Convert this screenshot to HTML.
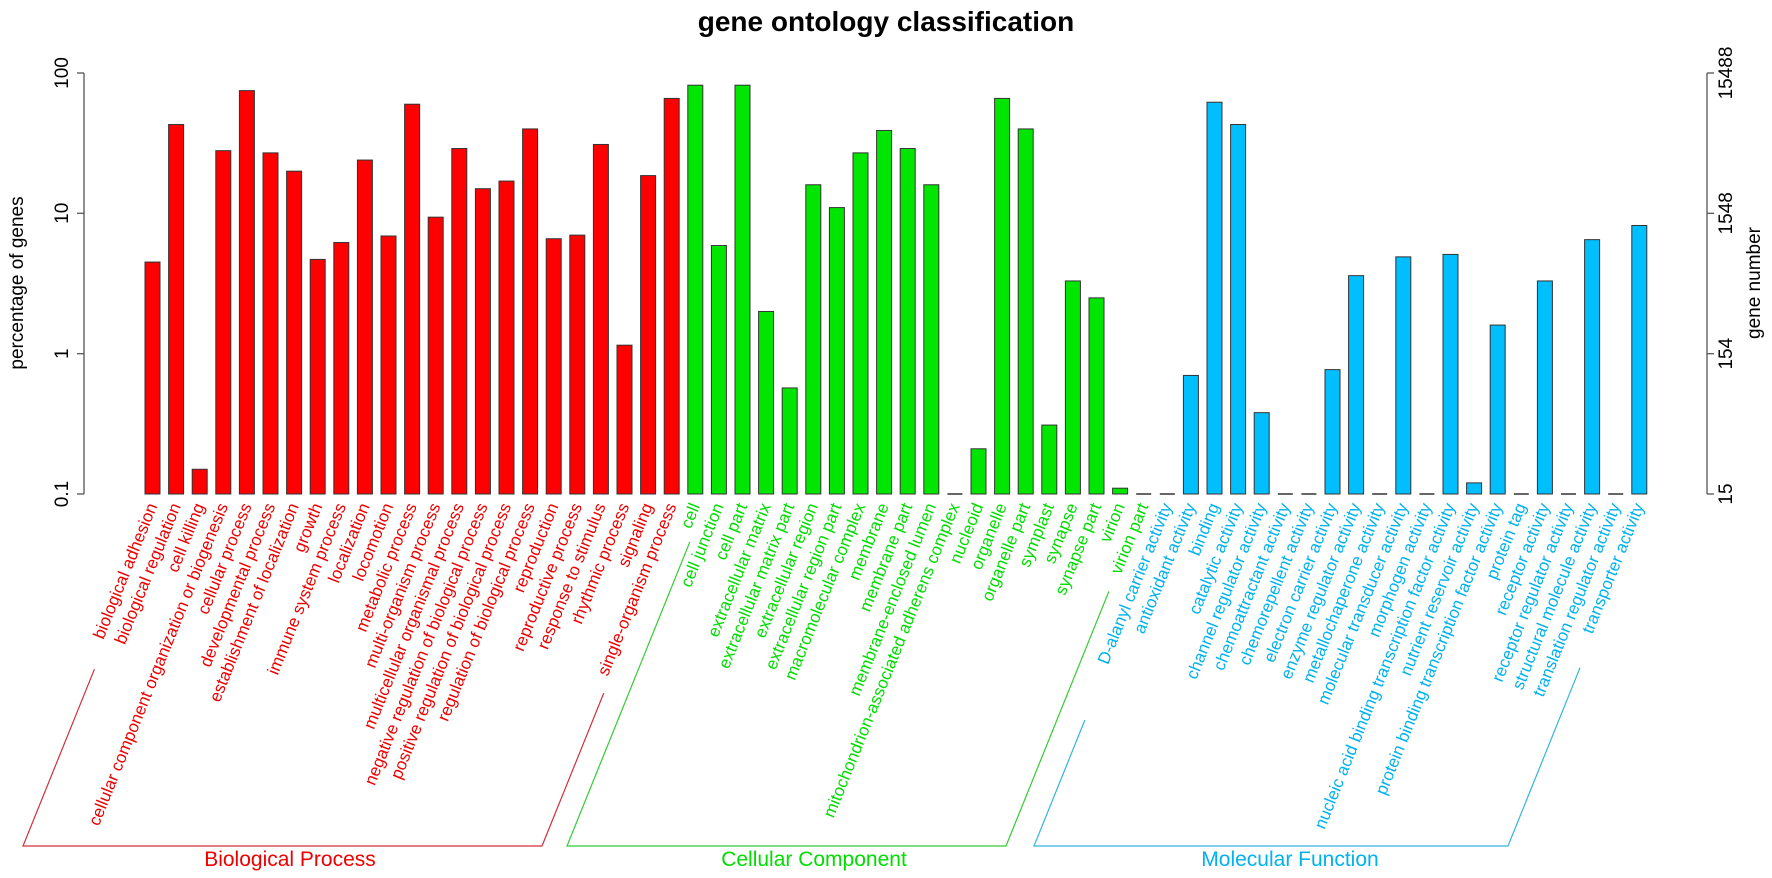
<!DOCTYPE html>
<html><head><meta charset="utf-8"><style>
html,body{margin:0;padding:0;background:#fff;}
svg{display:block;font-family:"Liberation Sans",Arial,sans-serif;}
</style></head><body>
<svg id="s" width="1772" height="878" viewBox="0 0 1772 878" xmlns="http://www.w3.org/2000/svg">
<rect width="1772" height="878" fill="#fff"/>
<text x="886" y="31" text-anchor="middle" font-size="28" font-weight="bold" fill="#000">gene ontology classification</text>
<g stroke="#555" stroke-width="1.3" fill="none">
<line x1="84" y1="73" x2="84" y2="494"/>
<line x1="77" y1="73" x2="84" y2="73"/><line x1="77" y1="213.3" x2="84" y2="213.3"/><line x1="77" y1="353.7" x2="84" y2="353.7"/><line x1="77" y1="494" x2="84" y2="494"/>
<line x1="1707" y1="73" x2="1707" y2="494"/>
<line x1="1707" y1="73" x2="1714" y2="73"/><line x1="1707" y1="213.3" x2="1714" y2="213.3"/><line x1="1707" y1="353.7" x2="1714" y2="353.7"/><line x1="1707" y1="494" x2="1714" y2="494"/>
</g>
<g font-size="19" fill="#000" text-anchor="middle">
<text transform="translate(68,73) rotate(-90)">100</text>
<text transform="translate(68,213.3) rotate(-90)">10</text>
<text transform="translate(68,353.7) rotate(-90)">1</text>
<text transform="translate(68,494) rotate(-90)">0.1</text>
<text transform="translate(23,283) rotate(-90)">percentage of genes</text>
<text transform="translate(1732,73) rotate(-90)">15488</text>
<text transform="translate(1732,213.3) rotate(-90)">1548</text>
<text transform="translate(1732,353.7) rotate(-90)">154</text>
<text transform="translate(1732,494) rotate(-90)">15</text>
<text transform="translate(1760,283) rotate(-90)">gene number</text>
</g>
<g id="bars"></g>
<g id="labels" font-size="17"></g>
<g id="br" fill="none" stroke-width="1.2"></g>
<g font-size="21" text-anchor="middle">
<text x="290" y="866" fill="#ee0000">Biological Process</text>
<text x="814" y="866" fill="#00dd00">Cellular Component</text>
<text x="1290" y="866" fill="#00b2ee">Molecular Function</text>
</g>
</svg>
<script>
var groups=[
{fill:"#ff0000",tc:"#ee0000",lc:"#d0303a",x0:23,x1:542,items:[
["biological adhesion",4.5],["biological regulation",43],["cell killing",0.15],["cellular component organization or biogenesis",28],["cellular process",75],["developmental process",27],["establishment of localization",20],["growth",4.7],["immune system process",6.2],["localization",24],["locomotion",6.9],["metabolic process",60],["multi-organism process",9.4],["multicellular organismal process",29],["negative regulation of biological process",15],["positive regulation of biological process",17],["regulation of biological process",40],["reproduction",6.6],["reproductive process",7],["response to stimulus",31],["rhythmic process",1.15],["signaling",18.6],["single-organism process",66]]},
{fill:"#00e600",tc:"#00dd00",lc:"#33cc33",x0:567,x1:1006,items:[
["cell",82],["cell junction",5.9],["cell part",82],["extracellular matrix",2.0],["extracellular matrix part",0.57],["extracellular region",16],["extracellular region part",11],["macromolecular complex",27],["membrane",39],["membrane part",29],["membrane-enclosed lumen",16],["mitochondrion-associated adherens complex",0.1],["nucleoid",0.21],["organelle",66],["organelle part",40],["symplast",0.31],["synapse",3.3],["synapse part",2.5],["virion",0.11],["virion part",0.1]]},
{fill:"#00bfff",tc:"#00b2ee",lc:"#33b5dd",x0:1034,x1:1508,items:[
["D-alanyl carrier activity",0.1],["antioxidant activity",0.7],["binding",62],["catalytic activity",43],["channel regulator activity",0.38],["chemoattractant activity",0.1],["chemorepellent activity",0.1],["electron carrier activity",0.77],["enzyme regulator activity",3.6],["metallochaperone activity",0.1],["molecular transducer activity",4.9],["morphogen activity",0.1],["nucleic acid binding transcription factor activity",5.1],["nutrient reservoir activity",0.12],["protein binding transcription factor activity",1.6],["protein tag",0.1],["receptor activity",3.3],["receptor regulator activity",0.1],["structural molecule activity",6.5],["translation regulator activity",0.1],["transporter activity",8.2]]}];
var NS="http://www.w3.org/2000/svg";
function el(t,a,p){var e=document.createElementNS(NS,t);for(var k in a)e.setAttribute(k,a[k]);p.appendChild(e);return e;}
var bars=document.getElementById("bars"),labs=document.getElementById("labels"),br=document.getElementById("br");
var i=0,cw=9.15,ang=68,s=Math.sin(ang*Math.PI/180),t=Math.tan(ang*Math.PI/180);
groups.forEach(function(g){
 var first=null,last=null;
 g.items.forEach(function(it){
  var x=145+i*23.6,cx=x+7.5;
  var y=494-140.3*(Math.log10(it[1])+1);
  if(it[1]<=0.1001){el("line",{x1:x,y1:494,x2:x+15,y2:494,stroke:"#333","stroke-width":1.5},bars);}
  else el("rect",{x:x,y:y,width:15,height:494-y,fill:g.fill,stroke:"#333","stroke-width":1},bars);
  var tx=el("text",{transform:"translate("+(cx+5)+",506) rotate(-"+ang+")","text-anchor":"end",fill:g.tc},labs);
  tx.textContent=it[0];
  var L=it[0].length*cw,by=506+L*s;
  if(first===null)first=by;last=by;
  i++;
 });
 var ly=Math.min(first+2,840), ry=Math.min(last-8,840);
 el("polyline",{points:(g.x0+(846-ly)/t)+","+ly+" "+g.x0+",846 "+g.x1+",846 "+(g.x1+(846-ry)/t)+","+ry,stroke:g.lc},br);
});
</script>
</body></html>
